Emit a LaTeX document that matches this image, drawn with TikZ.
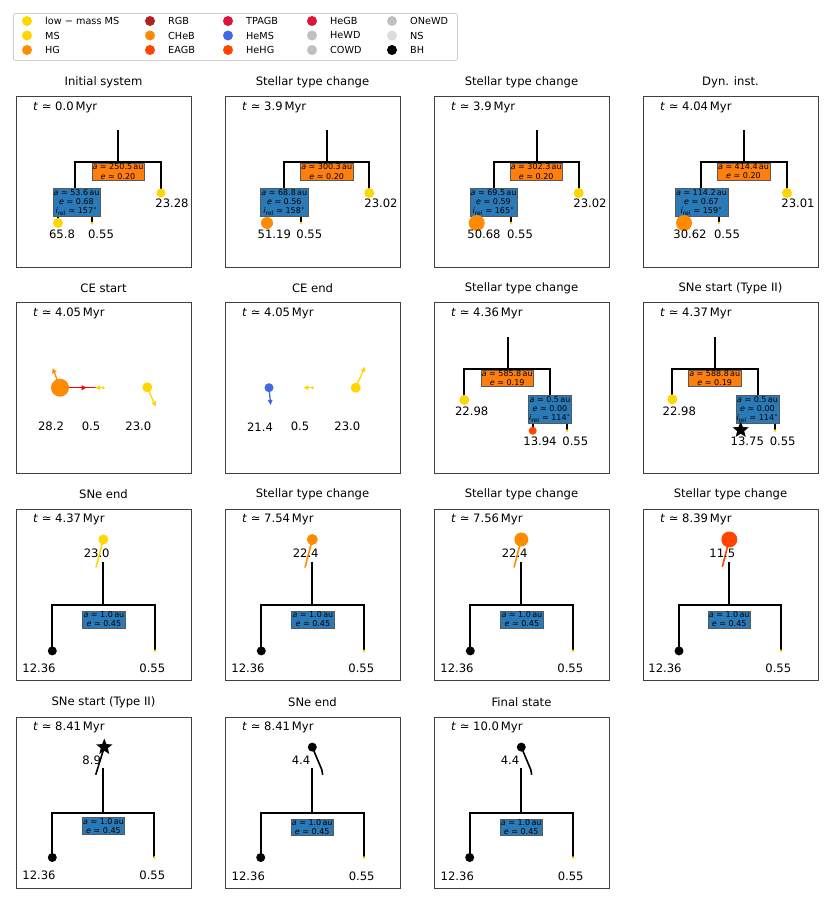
\documentclass[tikz,border=0pt]{standalone}
\usepackage{fontspec}
\setmainfont{DejaVu Sans}
\usetikzlibrary{shapes.geometric,arrows.meta}
\definecolor{cgold}{HTML}{FFD700}
\definecolor{cdorange}{HTML}{FF8C00}
\definecolor{cored}{HTML}{FF4500}
\definecolor{cfire}{HTML}{B22222}
\definecolor{ccrim}{HTML}{DC143C}
\definecolor{croyal}{HTML}{4169E1}
\definecolor{csilver}{HTML}{C0C0C0}
\definecolor{cgains}{HTML}{DCDCDC}
\definecolor{boxorange}{HTML}{FF7F0E}
\definecolor{boxblue}{HTML}{2A7AB8}
\tikzset{
  ttl/.style={font=\fontsize{11.6}{13}\selectfont},
  tlabel/.style={font=\fontsize{11.6}{13}\selectfont, anchor=west, inner sep=0pt},
  num/.style={font=\fontsize{11.6}{13}\selectfont, inner sep=0pt},
  tree/.style={line width=1.8pt, black},
  vel/.style={line width=1.6pt},
  arr/.style={line width=1.3pt, -{Triangle[length=5pt,width=4.5pt]}},
  ob/.style={draw=black!65, line width=0.5pt, fill=boxorange, font=\fontsize{8}{9.2}\selectfont, inner sep=0.8pt, align=center},
  bb/.style={draw=black!65, line width=0.5pt, fill=boxblue, font=\fontsize{8}{9.2}\selectfont, inner sep=0.8pt, align=center},
  dot/.style={circle, inner sep=0pt, draw=none},
  bhstar/.style={star, star points=5, star point ratio=2.3, fill=black, inner sep=0pt, draw=none},
  legtxt/.style={font=\fontsize{9.7}{11}\selectfont, anchor=west, inner sep=0pt},
  pframe/.style={draw=black!75, line width=1pt, minimum width=175pt, minimum height=171pt, inner sep=0pt, anchor=north west},
}
\newcommand\panelhead[3]{%
  \node[pframe] (#1) at (0,0) {};
  \node[ttl] (#1t) at (87.5,-14) {#2};
  \node[tlabel] (#1l) at (17,11) {\textit{t} ≃ #3\,Myr};
}
\newcommand\legitem[5]{%
  \node[dot, fill=#3, minimum size=10pt] (#5d) at (#1,#2) {};
  \node[legtxt] (#5t) at (#1+18,#2) {#4};
}
\newcommand\orbae[2]{\textit{a} ≃ #1\,au\\\textit{e} ≃ #2}
\newcommand\orbaei[3]{\textit{a} ≃ #1\,au\\\textit{e} ≃ #2\\\textit{i}\textsubscript{rel} ≃ #3\textsuperscript{∘}}
\begin{document}
\begin{tikzpicture}[x=1pt,y=-1pt]
\useasboundingbox (0,0) rectangle (830,902);
% legend
\node[draw=black!20, rounded corners=2pt, line width=0.8pt, minimum width=444pt, minimum height=47pt, inner sep=0pt, anchor=north west] (leg) at (13,13) {};
\legitem{27}{21}{cgold}{low − mass MS}{la}
\legitem{27}{35.5}{cgold}{MS}{lb}
\legitem{27}{50}{cdorange}{HG}{lc}
\legitem{150}{21}{cfire}{RGB}{ld}
\legitem{150}{35.5}{cdorange}{CHeB}{le}
\legitem{150}{50}{cored}{EAGB}{lf}
\legitem{228}{21}{ccrim}{TPAGB}{lg}
\legitem{228}{35.5}{croyal}{HeMS}{lh}
\legitem{228}{50}{cored}{HeHG}{li}
\legitem{312}{21}{ccrim}{HeGB}{lj}
\legitem{312}{35.5}{csilver}{HeWD}{lk}
\legitem{312}{50}{csilver}{COWD}{ll}
\legitem{392}{21}{csilver}{ONeWD}{lm}
\legitem{392}{35.5}{cgains}{NS}{ln}
\legitem{392}{50}{black}{BH}{lo}

% ---------- Panel 1
\begin{scope}[shift={(16,96)}]
\panelhead{pa}{Initial system}{0.0}
\coordinate (paT) at (102,34); \coordinate (paJ) at (102,66);
\coordinate (paL) at (59,66); \coordinate (paR) at (145,66);
\coordinate (paLj) at (59,104);
\coordinate (paA) at (42,127); \coordinate (paB) at (76,127); \coordinate (paC) at (145,97);
\draw[tree] (paT) -- (paJ);
\draw[tree] (paLj) -- (paL) -- (paR) -- (paC);
\draw[tree] (paA) -- (paA |- paLj) -- (paB |- paLj) -- (paB);
\node[ob] (pao) at (102,75.5) {\orbae{250.5}{0.20}};
\node[bb] (pai) at (60.5,106.5) {\orbaei{53.6}{0.68}{157}};
\node[dot, fill=cgold, minimum size=10pt] (paa) at (paA) {};
\node[dot, fill=cgold, minimum size=3pt] (pab) at (paB) {};
\node[dot, fill=cgold, minimum size=9pt] (pac) at (paC) {};
\node[num] (pana) at (46,138) {65.8};
\node[num] (panb) at (85,138) {0.55};
\node[num] (panc) at (156,107) {23.28};
\end{scope}

% ---------- Panel 2
\begin{scope}[shift={(225,96)}]
\panelhead{pb}{Stellar type change}{3.9}
\coordinate (pbT) at (102,34); \coordinate (pbJ) at (102,66);
\coordinate (pbL) at (58.7,66); \coordinate (pbR) at (144.3,66);
\coordinate (pbLj) at (58.7,104);
\coordinate (pbA) at (42,127); \coordinate (pbB) at (76,127); \coordinate (pbC) at (144.3,97);
\draw[tree] (pbT) -- (pbJ);
\draw[tree] (pbLj) -- (pbL) -- (pbR) -- (pbC);
\draw[tree] (pbA) -- (pbA |- pbLj) -- (pbB |- pbLj) -- (pbB);
\node[ob] (pbo) at (101.7,75.5) {\orbae{300.3}{0.20}};
\node[bb] (pbi) at (59.3,106.5) {\orbaei{68.8}{0.56}{158}};
\node[dot, fill=cdorange, minimum size=12pt] (pba) at (pbA) {};
\node[dot, fill=cgold, minimum size=3pt] (pbb) at (pbB) {};
\node[dot, fill=cgold, minimum size=10pt] (pbc) at (pbC) {};
\node[num] (pbna) at (49.3,138) {51.19};
\node[num] (pbnb) at (84.3,138) {0.55};
\node[num] (pbnc) at (156,107) {23.02};
\end{scope}

% ---------- Panel 3
\begin{scope}[shift={(434,96)}]
\panelhead{pc}{Stellar type change}{3.9}
\coordinate (pcT) at (103,34); \coordinate (pcJ) at (103,66);
\coordinate (pcL) at (59.7,66); \coordinate (pcR) at (144.7,66);
\coordinate (pcLj) at (59.7,104);
\coordinate (pcA) at (42.7,127); \coordinate (pcB) at (77,127); \coordinate (pcC) at (144.7,97);
\draw[tree] (pcT) -- (pcJ);
\draw[tree] (pcLj) -- (pcL) -- (pcR) -- (pcC);
\draw[tree] (pcA) -- (pcA |- pcLj) -- (pcB |- pcLj) -- (pcB);
\node[ob] (pco) at (102.2,75.5) {\orbae{302.3}{0.20}};
\node[bb] (pci) at (59.5,106.5) {\orbaei{69.5}{0.59}{165}};
\node[dot, fill=cdorange, minimum size=16pt] (pca) at (pcA) {};
\node[dot, fill=cgold, minimum size=3pt] (pcb) at (pcB) {};
\node[dot, fill=cgold, minimum size=10pt] (pcc) at (pcC) {};
\node[num] (pcna) at (50,138) {50.68};
\node[num] (pcnb) at (86,138) {0.55};
\node[num] (pcnc) at (156,107) {23.02};
\end{scope}

% ---------- Panel 4
\begin{scope}[shift={(643,96)}]
\panelhead{pd}{Dyn. inst.}{4.04}
\coordinate (pdT) at (101,34); \coordinate (pdJ) at (101,66);
\coordinate (pdL) at (58,66); \coordinate (pdR) at (144,66);
\coordinate (pdLj) at (58,104);
\coordinate (pdA) at (41,127); \coordinate (pdB) at (76,127); \coordinate (pdC) at (144,97);
\draw[tree] (pdT) -- (pdJ);
\draw[tree] (pdLj) -- (pdL) -- (pdR) -- (pdC);
\draw[tree] (pdA) -- (pdA |- pdLj) -- (pdB |- pdLj) -- (pdB);
\node[ob] (pdo) at (100.5,75.5) {\orbae{414.4}{0.20}};
\node[bb] (pdi) at (58.5,106.5) {\orbaei{114.2}{0.67}{159}};
\node[dot, fill=cdorange, minimum size=16pt] (pda) at (pdA) {};
\node[dot, fill=cgold, minimum size=3pt] (pdb) at (pdB) {};
\node[dot, fill=cgold, minimum size=10pt] (pdc) at (pdC) {};
\node[num] (pdna) at (47,138) {30.62};
\node[num] (pdnb) at (84,138) {0.55};
\node[num] (pdnc) at (155,107) {23.01};
\end{scope}

% ---------- Panel 5: CE start
\begin{scope}[shift={(16,302)}]
\panelhead{pe}{CE start}{4.05}
\coordinate (peA) at (44,85.7); \coordinate (peB) at (87.3,85.7); \coordinate (peC) at (131.3,85.3);
\coordinate (peAv) at (36.7,66); \coordinate (peAr) at (70.7,85.7); \coordinate (peAs) at (66,85.7);
\coordinate (peBv) at (79,85.7); \coordinate (peCv) at (139.7,104.7);
\draw[arr, cdorange] (peA) -- (peAv);
\draw[red, line width=1.4pt] (peAs) -- (peB);
\draw[arr, red] (peA) -- (peAr);
\draw[arr, cgold] (peB) -- (peBv);
\draw[arr, cgold] (peC) -- (peCv);
\node[dot, fill=cdorange, minimum size=18pt] (pea) at (peA) {};
\node[dot, fill=cgold, minimum size=3pt] (peb) at (peB) {};
\node[dot, fill=cgold, minimum size=10pt] (pec) at (peC) {};
\node[num] (pena) at (35,124.7) {28.2};
\node[num] (penb) at (75,124.7) {0.5};
\node[num] (penc) at (122.3,124.7) {23.0};
\end{scope}

% ---------- Panel 6: CE end
\begin{scope}[shift={(225,302)}]
\panelhead{pf}{CE end}{4.05}
\coordinate (pfA) at (44,85.7); \coordinate (pfB) at (87.7,85.7); \coordinate (pfC) at (130.7,85.7);
\coordinate (pfAv) at (45.7,103); \coordinate (pfBv) at (78.3,85.7); \coordinate (pfCv) at (140,64.7);
\draw[arr, croyal] (pfA) -- (pfAv);
\draw[arr, cgold] (pfB) -- (pfBv);
\draw[arr, cgold] (pfC) -- (pfCv);
\node[dot, fill=croyal, minimum size=9pt] (pfa) at (pfA) {};
\node[dot, fill=cgold, minimum size=3pt] (pfb) at (pfB) {};
\node[dot, fill=cgold, minimum size=10pt] (pfc) at (pfC) {};
\node[num] (pfna) at (35,124.7) {21.4};
\node[num] (pfnb) at (75,124.7) {0.5};
\node[num] (pfnc) at (122.3,124.7) {23.0};
\end{scope}

% ---------- Panel 7
\begin{scope}[shift={(434,302)}]
\panelhead{pg}{Stellar type change}{4.36}
\coordinate (pgT) at (73.7,35.3); \coordinate (pgJ) at (73.7,67);
\coordinate (pgL) at (30.3,67); \coordinate (pgR) at (116,67);
\coordinate (pgRj) at (116,100);
\coordinate (pgA) at (30.3,98); \coordinate (pgB) at (98.7,128.7); \coordinate (pgC) at (133,128.7);
\draw[tree] (pgT) -- (pgJ);
\draw[tree] (pgA) -- (pgL) -- (pgR) -- (pgRj);
\draw[tree] (pgB) -- (pgB |- pgRj) -- (pgC |- pgRj) -- (pgC);
\node[ob] (pgo) at (73.2,76.3) {\orbae{585.8}{0.19}};
\node[bb] (pgi) at (116,107.2) {\orbaei{0.5}{0.00}{114}};
\node[dot, fill=cgold, minimum size=10pt] (pga) at (pgA) {};
\node[dot, fill=cored, minimum size=8pt] (pgb) at (pgB) {};
\node[dot, fill=cgold, minimum size=3pt] (pgc) at (pgC) {};
\node[num] (pgna) at (37.7,109) {22.98};
\node[num] (pgnb) at (106,139) {13.94};
\node[num] (pgnc) at (141.3,139) {0.55};
\end{scope}

% ---------- Panel 8
\begin{scope}[shift={(643,302)}]
\panelhead{ph}{SNe start (Type II)}{4.37}
\coordinate (phT) at (72,35.3); \coordinate (phJ) at (72,67);
\coordinate (phL) at (29.3,67); \coordinate (phR) at (114.7,67);
\coordinate (phRj) at (114.7,100);
\coordinate (phA) at (29.3,97.3); \coordinate (phB) at (97.7,128); \coordinate (phC) at (132,128.7);
\draw[tree] (phT) -- (phJ);
\draw[tree] (phA) -- (phL) -- (phR) -- (phRj);
\draw[tree] (phB) -- (phB |- phRj) -- (phC |- phRj) -- (phC);
\node[ob] (pho) at (71.7,76.3) {\orbae{588.8}{0.19}};
\node[bb] (phi) at (114.5,107.2) {\orbaei{0.5}{0.00}{114}};
\node[dot, fill=cgold, minimum size=10pt] (pha) at (phA) {};
\node[bhstar, minimum size=17pt] (phb) at (phB) {};
\node[dot, fill=cgold, minimum size=3pt] (phc) at (phC) {};
\node[num] (phna) at (36.3,109) {22.98};
\node[num] (phnb) at (104.3,139) {13.75};
\node[num] (phnc) at (139.7,139) {0.55};
\end{scope}

% ---------- Panel 9
\begin{scope}[shift={(16,508.5)}]
\panelhead{pi}{SNe end}{4.37}
\coordinate (piA) at (87.3,31); \coordinate (piAv) at (80,59);
\coordinate (piT) at (87.3,53.4); \coordinate (piJ) at (87.3,96.7);
\coordinate (piL) at (36.3,96.7); \coordinate (piR) at (139,96.7);
\coordinate (piB) at (36.3,142.4); \coordinate (piC) at (139,142.4);
\draw[vel, cgold] (piA) -- (piAv);
\draw[tree] (piT) -- (piJ);
\draw[tree] (piB) -- (piL) -- (piR) -- (piC);
\node[bb] (pio) at (87.9,110.9) {\orbae{1.0}{0.45}};
\node[dot, fill=cgold, minimum size=10pt] (pia) at (piA) {};
\node[dot, fill=black, minimum size=9pt] (pib) at (piB) {};
\node[dot, fill=cgold, minimum size=3pt] (pic) at (piC) {};
\node[num] (pina) at (80.7,45) {23.0};
\node[num] (pinb) at (23,160) {12.36};
\node[num] (pinc) at (136.3,160) {0.55};
\end{scope}

% ---------- Panel 10
\begin{scope}[shift={(225,508.5)}]
\panelhead{pj}{Stellar type change}{7.54}
\coordinate (pjA) at (87.3,31); \coordinate (pjAv) at (80,59);
\coordinate (pjT) at (87.3,53.4); \coordinate (pjJ) at (87.3,96.7);
\coordinate (pjL) at (36.3,96.7); \coordinate (pjR) at (139,96.7);
\coordinate (pjB) at (36.3,142.4); \coordinate (pjC) at (139,142.4);
\draw[vel, cdorange] (pjA) -- (pjAv);
\draw[tree] (pjT) -- (pjJ);
\draw[tree] (pjB) -- (pjL) -- (pjR) -- (pjC);
\node[bb] (pjo) at (87.9,110.9) {\orbae{1.0}{0.45}};
\node[dot, fill=cdorange, minimum size=11pt] (pja) at (pjA) {};
\node[dot, fill=black, minimum size=9pt] (pjb) at (pjB) {};
\node[dot, fill=cgold, minimum size=3pt] (pjc) at (pjC) {};
\node[num] (pjna) at (80.7,45) {22.4};
\node[num] (pjnb) at (23,160) {12.36};
\node[num] (pjnc) at (136.3,160) {0.55};
\end{scope}

% ---------- Panel 11
\begin{scope}[shift={(434,508.5)}]
\panelhead{pk}{Stellar type change}{7.56}
\coordinate (pkA) at (87.3,31); \coordinate (pkAv) at (80,59);
\coordinate (pkT) at (87.3,53.4); \coordinate (pkJ) at (87.3,96.7);
\coordinate (pkL) at (36.3,96.7); \coordinate (pkR) at (139,96.7);
\coordinate (pkB) at (36.3,142.4); \coordinate (pkC) at (139,142.4);
\draw[vel, cdorange] (pkA) -- (pkAv);
\draw[tree] (pkT) -- (pkJ);
\draw[tree] (pkB) -- (pkL) -- (pkR) -- (pkC);
\node[bb] (pko) at (87.9,110.9) {\orbae{1.0}{0.45}};
\node[dot, fill=cdorange, minimum size=14pt] (pka) at (pkA) {};
\node[dot, fill=black, minimum size=9pt] (pkb) at (pkB) {};
\node[dot, fill=cgold, minimum size=3pt] (pkc) at (pkC) {};
\node[num] (pkna) at (80.7,45) {22.4};
\node[num] (pknb) at (23,160) {12.36};
\node[num] (pknc) at (136.3,160) {0.55};
\end{scope}

% ---------- Panel 12
\begin{scope}[shift={(643,508.5)}]
\panelhead{pl}{Stellar type change}{8.39}
\coordinate (plA) at (86.3,31); \coordinate (plAv) at (79.3,58.4);
\coordinate (plT) at (86.3,53.4); \coordinate (plJ) at (86.3,96.7);
\coordinate (plL) at (36,96.7); \coordinate (plR) at (137.7,96.7);
\coordinate (plB) at (36,142.4); \coordinate (plC) at (137.7,142.4);
\draw[vel, cored] (plA) -- (plAv);
\draw[tree] (plT) -- (plJ);
\draw[tree] (plB) -- (plL) -- (plR) -- (plC);
\node[bb] (plo) at (86.2,110.9) {\orbae{1.0}{0.45}};
\node[dot, fill=cored, minimum size=16pt] (pla) at (plA) {};
\node[dot, fill=black, minimum size=9pt] (plb) at (plB) {};
\node[dot, fill=cgold, minimum size=3pt] (plc) at (plC) {};
\node[num] (plna) at (79.3,45) {11.5};
\node[num] (plnb) at (22,160) {12.36};
\node[num] (plnc) at (135.3,160) {0.55};
\end{scope}

% ---------- Panel 13
\begin{scope}[shift={(16,716.5)}]
\panelhead{pm}{SNe start (Type II)}{8.41}
\coordinate (pmA) at (88.3,30.6); \coordinate (pmAv) at (79.7,58.3);
\coordinate (pmT) at (87.3,51.7); \coordinate (pmJ) at (87.3,96.7);
\coordinate (pmL) at (36.3,96.7); \coordinate (pmR) at (138.3,96.7);
\coordinate (pmB) at (36.3,141); \coordinate (pmC) at (138.3,141);
\draw[vel, black] (pmA) -- (pmAv);
\draw[tree] (pmT) -- (pmJ);
\draw[tree] (pmB) -- (pmL) -- (pmR) -- (pmC);
\node[bb] (pmo) at (87.5,109.5) {\orbae{1.0}{0.45}};
\node[bhstar, minimum size=17pt] (pma) at (pmA) {};
\node[dot, fill=black, minimum size=9pt] (pmb) at (pmB) {};
\node[dot, fill=cgold, minimum size=3pt] (pmc) at (pmC) {};
\node[num] (pmna) at (75.7,43.3) {8.9};
\node[num] (pmnb) at (23,158.3) {12.36};
\node[num] (pmnc) at (136.3,158.3) {0.55};
\end{scope}

% ---------- Panel 14
\begin{scope}[shift={(225,716.5)}]
\panelhead{pn}{SNe end}{8.41}
\coordinate (pnA) at (87.3,30.6); \coordinate (pnAk) at (96.7,53); \coordinate (pnAv) at (97.7,58.3);
\coordinate (pnT) at (87.3,51.7); \coordinate (pnJ) at (87.3,96.7);
\coordinate (pnL) at (35.7,96.7); \coordinate (pnR) at (139,96.7);
\coordinate (pnB) at (35.7,141); \coordinate (pnC) at (139,141);
\draw[vel, black] (pnA) -- (pnAk) -- (pnAv);
\draw[tree] (pnT) -- (pnJ);
\draw[tree] (pnB) -- (pnL) -- (pnR) -- (pnC);
\node[bb] (pno) at (87.2,110.8) {\orbae{1.0}{0.45}};
\node[dot, fill=black, minimum size=9pt] (pna) at (pnA) {};
\node[dot, fill=black, minimum size=9pt] (pnb) at (pnB) {};
\node[dot, fill=cgold, minimum size=3pt] (pnc) at (pnC) {};
\node[num] (pnna) at (76,43.3) {4.4};
\node[num] (pnnb) at (23.3,159.3) {12.36};
\node[num] (pnnc) at (136.7,159.3) {0.55};
\end{scope}

% ---------- Panel 15
\begin{scope}[shift={(434,716.5)}]
\panelhead{po}{Final state}{10.0}
\coordinate (poA) at (87.3,30.6); \coordinate (poAk) at (96.7,53); \coordinate (poAv) at (97.7,58.3);
\coordinate (poT) at (87.3,51.7); \coordinate (poJ) at (87.3,96.7);
\coordinate (poL) at (35.7,96.7); \coordinate (poR) at (139,96.7);
\coordinate (poB) at (35.7,141); \coordinate (poC) at (139,141);
\draw[vel, black] (poA) -- (poAk) -- (poAv);
\draw[tree] (poT) -- (poJ);
\draw[tree] (poB) -- (poL) -- (poR) -- (poC);
\node[bb] (poo) at (87.2,110.8) {\orbae{1.0}{0.45}};
\node[dot, fill=black, minimum size=9pt] (poa) at (poA) {};
\node[dot, fill=black, minimum size=9pt] (pob) at (poB) {};
\node[dot, fill=cgold, minimum size=3pt] (poc) at (poC) {};
\node[num] (pona) at (76,43.3) {4.4};
\node[num] (ponb) at (23.3,159.3) {12.36};
\node[num] (ponc) at (136.7,159.3) {0.55};
\end{scope}
\end{tikzpicture}
\end{document}
